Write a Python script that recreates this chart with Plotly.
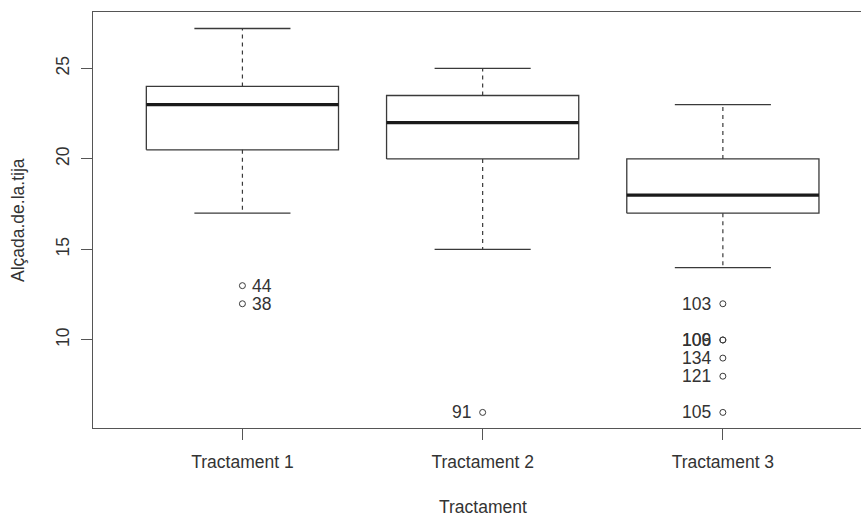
import plotly.graph_objects as go

# Summary statistics per treatment (box plot of stem height)
groups = ["Tractament 1", "Tractament 2", "Tractament 3"]
whisker_lo = [17, 15, 14]
q1 = [20.5, 20, 17]
median = [23, 22, 18]
q3 = [24, 23.5, 20]
whisker_hi = [27.2, 25, 23]

# Outliers: group index (1-based), value and observation label
outlier_group = [1, 1, 2, 3, 3, 3, 3, 3, 3]
outlier_value = [13, 12, 6, 12, 10, 10, 9, 8, 6]
outlier_label = ["44", "38", "91", "103", "106", "109", "134", "121", "105"]

y_ticks = [10, 15, 20, 25]

FONT = "Liberation Sans, Arial, sans-serif"
INK = "#333333"
LINE = "#3a3a3a"
BOXWEX = 0.8
STAPLEWEX = 0.5

fig = go.Figure()

for i, name in enumerate(groups):
    c = i + 1
    hw = BOXWEX / 2
    sw = BOXWEX * STAPLEWEX / 2
    # box body
    fig.add_trace(go.Scatter(
        x=[c - hw, c + hw, c + hw, c - hw, c - hw],
        y=[q1[i], q1[i], q3[i], q3[i], q1[i]],
        mode="lines", line=dict(color=LINE, width=1.3),
        fill="toself", fillcolor="white", hoverinfo="skip", showlegend=False))
    # whiskers (dashed)
    for a, b in ((q3[i], whisker_hi[i]), (q1[i], whisker_lo[i])):
        fig.add_trace(go.Scatter(
            x=[c, c], y=[a, b], mode="lines",
            line=dict(color=LINE, width=1.2, dash="4px,4px"),
            hoverinfo="skip", showlegend=False))
    # staples
    for v in (whisker_hi[i], whisker_lo[i]):
        fig.add_trace(go.Scatter(
            x=[c - sw, c + sw], y=[v, v], mode="lines",
            line=dict(color=LINE, width=1.3),
            hoverinfo="skip", showlegend=False))
    # median
    fig.add_trace(go.Scatter(
        x=[c - hw, c + hw], y=[median[i], median[i]], mode="lines",
        line=dict(color="#1a1a1a", width=3.2),
        hoverinfo="skip", showlegend=False))

# outlier points
fig.add_trace(go.Scatter(
    x=outlier_group, y=outlier_value, mode="markers",
    marker=dict(symbol="circle-open", size=6, color=LINE, line=dict(width=1)),
    hoverinfo="skip", showlegend=False))

annotations = []
for g, v, lab in zip(outlier_group, outlier_value, outlier_label):
    right = g == 1
    annotations.append(dict(
        x=g, y=v, xref="x", yref="y", text=lab, showarrow=False,
        xanchor="left" if right else "right", yanchor="middle",
        xshift=8 if right else -10,
        font=dict(family=FONT, size=17.5, color=INK)))

# axis titles
annotations.append(dict(
    x=2, y=0, xref="x", yref="paper", yshift=-79, text="Tractament",
    showarrow=False, xanchor="center", yanchor="middle",
    font=dict(family=FONT, size=17.5, color=INK)))
annotations.append(dict(
    x=0, y=0.5, xref="paper", yref="paper", xshift=-75, text="Alçada.de.la.tija",
    showarrow=False, xanchor="center", yanchor="middle", textangle=-90,
    font=dict(family=FONT, size=17.5, color=INK)))

fig.update_layout(
    width=861, height=516,
    margin=dict(l=93, r=0, t=12, b=88),
    paper_bgcolor="white", plot_bgcolor="white",
    annotations=annotations,
    xaxis=dict(
        range=[0.378, 3.575], tickvals=[1, 2, 3], ticktext=groups,
        showgrid=False, zeroline=False,
        showline=True, mirror=True, linecolor="#555555", linewidth=1.3,
        ticks="outside", ticklen=11, tickcolor="#555555", tickwidth=1.3,
        ticklabelstandoff=7,
        tickfont=dict(family=FONT, size=17.5, color=INK)),
    yaxis=dict(
        range=[5.14, 28.11], tickvals=y_ticks,
        showgrid=False, zeroline=False,
        showline=True, linecolor="#555555", linewidth=1.3,
        ticks="outside", ticklen=11, tickcolor="#555555", tickwidth=1.3,
        tickangle=-90, ticklabelstandoff=5,
        tickfont=dict(family=FONT, size=17.5, color=INK)),
)

fig.write_html("out.html")
